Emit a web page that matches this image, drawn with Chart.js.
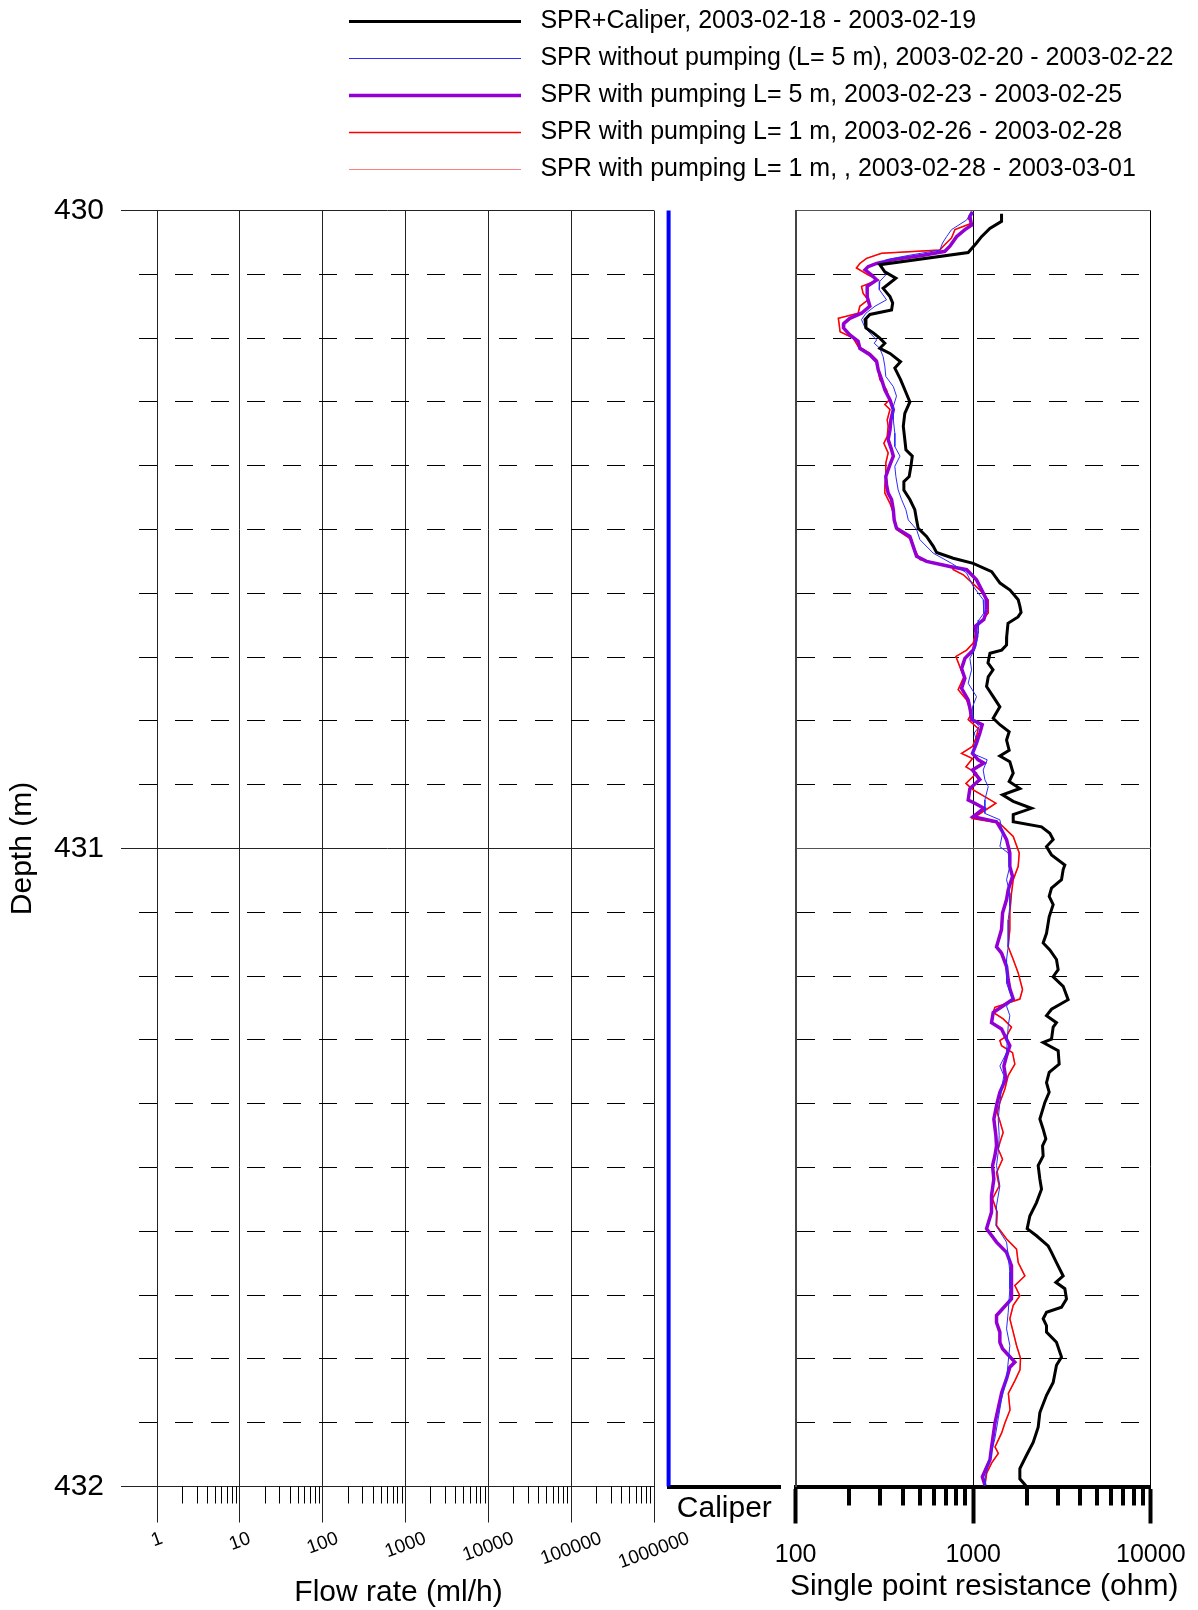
<!DOCTYPE html>
<html>

<head>
    <title>SPR log 430-432 m</title>
    <meta charset="utf-8">
    <script src="https://cdn.jsdelivr.net/npm/chart.js"></script>
    <style>
        body { margin: 0; background: #fff; }
        #wrap { position: relative; width: 1198px; height: 1610px; overflow: hidden; }
        canvas { position: absolute; }
    </style>
</head>

<body>
    <div id="wrap">
        <canvas id="flowChart" width="760" height="1610" style="left:0px;top:0px"></canvas>
        <canvas id="caliperChart" width="160" height="1610" style="left:640px;top:0px"></canvas>
        <canvas id="sprChart" width="880" height="1613" style="left:337px;top:-3px"></canvas>
    </div>

    <script>
        // depth axis (m) and axis decades
        const depthLabels = [430, 431, 432];
        const flowDecades = [1, 10, 100, 1000, 10000, 100000, 1000000];
        const sprDecades = [100, 1000, 10000];

        // caliper (mm)
        const caliperDepth = [430.0, 432.0];
        const caliperMm = [76, 76];

        // SPR+Caliper, 2003-02-18 - 2003-02-19
        const caliperSprDepth = [430.005, 430.017, 430.028, 430.041, 430.051, 430.066, 430.085, 430.096, 430.106, 430.122,
            430.135, 430.145, 430.156, 430.163, 430.171, 430.184, 430.192, 430.200, 430.208, 430.216,
            430.224, 430.237, 430.247, 430.265, 430.281, 430.300, 430.318, 430.338, 430.359, 430.375,
            430.385, 430.401, 430.417, 430.425, 430.438, 430.453, 430.469, 430.485, 430.498, 430.511,
            430.526, 430.536, 430.545, 430.553, 430.566, 430.584, 430.595, 430.610, 430.621, 430.630,
            430.637, 430.647, 430.668, 430.681, 430.689, 430.694, 430.709, 430.720, 430.731, 430.746,
            430.762, 430.778, 430.796, 430.806, 430.817, 430.830, 430.846, 430.855, 430.864, 430.882,
            430.895, 430.906, 430.916, 430.926, 430.937, 430.947, 430.958, 430.966, 430.976, 430.986,
            430.997, 431.010, 431.026, 431.033, 431.049, 431.062, 431.075, 431.088, 431.107, 431.133,
            431.148, 431.159, 431.174, 431.190, 431.201, 431.216, 431.237, 431.252, 431.262, 431.273,
            431.280, 431.299, 431.304, 431.317, 431.338, 431.351, 431.367, 431.382, 431.398, 431.424,
            431.440, 431.455, 431.466, 431.482, 431.497, 431.518, 431.534, 431.555, 431.576, 431.596,
            431.607, 431.623, 431.633, 431.649, 431.670, 431.680, 431.690, 431.706, 431.719, 431.727,
            431.737, 431.748, 431.758, 431.774, 431.797, 431.810, 431.837, 431.857, 431.884, 431.907,
            431.931, 431.951, 431.972, 431.988, 432.000];
        const caliperSprOhm = [1444, 1444, 1241, 1114, 1044, 937, 298, 318, 367, 311,
            340, 352, 347, 262, 246, 249, 274, 298, 318, 298,
            340, 390, 362, 390, 412, 440, 412, 404, 412, 418,
            454, 446, 436, 407, 407, 440, 469, 480, 490, 546,
            595, 622, 772, 1000, 1271, 1416, 1612, 1792, 1834, 1860,
            1788, 1570, 1544, 1541, 1447, 1243, 1211, 1293, 1215, 1189,
            1296, 1413, 1296, 1413, 1594, 1541, 1594, 1413, 1608, 1680,
            1594, 1831, 1463, 1680, 2130, 1680, 1680, 2425, 2701, 2820,
            2587, 2760, 3281, 3211, 3142, 2760, 2678, 2820, 2678, 2587,
            2477, 2701, 2944, 3009, 2820, 3211, 3425, 2760, 2587, 2944,
            2820, 2760, 2477, 3009, 3048, 2678, 2587, 2678, 2532, 2373,
            2477, 2564, 2457, 2477, 2322, 2373, 2425, 2272, 2084, 2013,
            2272, 2643, 2760, 2944, 3211, 2920, 3281, 3352, 3142, 2587,
            2477, 2587, 2587, 2944, 3142, 2944, 2820, 2587, 2373, 2322,
            2176, 1996, 1831, 1831, 1996];

        // SPR without pumping (L= 5 m)
        const noPumpDepth = [430.002, 430.015, 430.030, 430.041, 430.051, 430.062, 430.070, 430.077, 430.083, 430.090,
            430.101, 430.111, 430.124, 430.140, 430.150, 430.161, 430.171, 430.184, 430.192, 430.203,
            430.208, 430.216, 430.229, 430.244, 430.260, 430.276, 430.291, 430.307, 430.328, 430.349,
            430.370, 430.385, 430.401, 430.417, 430.438, 430.453, 430.469, 430.485, 430.500, 430.516,
            430.537, 430.553, 430.568, 430.589, 430.610, 430.631, 430.642, 430.663, 430.684, 430.702,
            430.720, 430.741, 430.762, 430.778, 430.798, 430.809, 430.819, 430.830, 430.851, 430.861,
            430.877, 430.892, 430.903, 430.924, 430.945, 430.955, 430.976, 430.997, 431.007, 431.028,
            431.049, 431.070, 431.091, 431.112, 431.154, 431.174, 431.211, 431.236, 431.247, 431.262,
            431.278, 431.320, 431.341, 431.356, 431.377, 431.398, 431.424, 431.450, 431.476, 431.497,
            431.529, 431.560, 431.591, 431.617, 431.638, 431.664, 431.690, 431.727, 431.753, 431.779,
            431.805, 431.831, 431.863, 431.894, 431.925, 431.957, 431.988, 431.998];
        const noPumpOhm = [991, 917, 755, 708, 672, 649, 440, 325, 298, 305,
            322, 298, 296, 325, 280, 249, 235, 246, 262, 286,
            277, 298, 311, 318, 322, 355, 370, 355, 355, 362,
            362, 387, 362, 367, 378, 395, 418, 431, 480, 501,
            595, 755, 917, 1000, 1138, 1148, 1076, 1067, 1035, 958,
            979, 937, 1044, 991, 1000, 1081, 1013, 1044, 991, 1199,
            1138, 1163, 1215, 1163, 1163, 1413, 1463, 1413, 1574, 1608,
            1541, 1608, 1608, 1574, 1574, 1541, 1541, 1665, 1541, 1608,
            1574, 1541, 1413, 1488, 1444, 1413, 1383, 1401, 1383, 1353,
            1413, 1353, 1342, 1541, 1574, 1608, 1608, 1574, 1541, 1608,
            1574, 1541, 1444, 1383, 1324, 1241, 1163, 1163];

        // SPR with pumping L= 5 m
        const pump5Depth = [430.002, 430.009, 430.023, 430.030, 430.041, 430.056, 430.064, 430.070, 430.077, 430.083,
            430.088, 430.093, 430.101, 430.109, 430.119, 430.135, 430.150, 430.161, 430.169, 430.177,
            430.184, 430.195, 430.205, 430.216, 430.226, 430.237, 430.250, 430.265, 430.281, 430.297,
            430.312, 430.328, 430.344, 430.359, 430.375, 430.385, 430.401, 430.417, 430.430, 430.443,
            430.453, 430.469, 430.485, 430.498, 430.511, 430.526, 430.542, 430.550, 430.558, 430.563,
            430.579, 430.594, 430.610, 430.626, 430.641, 430.652, 430.668, 430.689, 430.702, 430.718,
            430.733, 430.749, 430.767, 430.785, 430.798, 430.806, 430.819, 430.835, 430.851, 430.861,
            430.866, 430.877, 430.892, 430.906, 430.924, 430.929, 430.937, 430.950, 430.958, 430.971,
            430.986, 431.007, 431.028, 431.044, 431.065, 431.080, 431.101, 431.127, 431.154, 431.164,
            431.185, 431.206, 431.220, 431.236, 431.257, 431.273, 431.283, 431.299, 431.309, 431.325,
            431.341, 431.361, 431.382, 431.398, 431.424, 431.450, 431.466, 431.482, 431.497, 431.518,
            431.544, 431.570, 431.596, 431.617, 431.633, 431.654, 431.680, 431.706, 431.732, 431.743,
            431.758, 431.774, 431.784, 431.805, 431.813, 431.831, 431.853, 431.900, 431.937, 431.958,
            431.985, 431.998];
        const pump5Ohm = [991, 958, 979, 898, 806, 739, 693, 523, 355, 286,
            256, 246, 268, 286, 253, 253, 262, 235, 202, 187,
            186, 202, 225, 230, 262, 286, 292, 305, 318, 340,
            355, 344, 340, 332, 347, 355, 337, 322, 325, 332,
            347, 355, 359, 370, 440, 459, 480, 546, 739, 919,
            1044, 1114, 1189, 1191, 1148, 1024, 1046, 1001, 898, 860,
            898, 860, 937, 966, 979, 1124, 1090, 1044, 991, 1067,
            1148, 991, 1090, 958, 937, 1022, 1148, 1000, 1353, 1444,
            1541, 1608, 1608, 1665, 1574, 1541, 1463, 1444, 1353, 1444,
            1541, 1574, 1608, 1680, 1296, 1268, 1444, 1541, 1608, 1541,
            1488, 1527, 1413, 1365, 1307, 1342, 1353, 1324, 1285, 1307,
            1268, 1268, 1189, 1353, 1541, 1643, 1643, 1643, 1353, 1353,
            1413, 1413, 1463, 1716, 1608, 1541, 1446, 1327, 1271, 1243,
            1126, 1165];

        // SPR with pumping L= 1 m, 2003-02-26 - 2003-02-28
        const pump1Depth = [430.002, 430.012, 430.020, 430.030, 430.043, 430.056, 430.062, 430.067, 430.075, 430.083,
            430.090, 430.101, 430.109, 430.119, 430.130, 430.140, 430.150, 430.161, 430.169, 430.179,
            430.190, 430.200, 430.213, 430.224, 430.234, 430.250, 430.265, 430.281, 430.297, 430.304,
            430.312, 430.328, 430.338, 430.354, 430.365, 430.380, 430.396, 430.417, 430.432, 430.443,
            430.459, 430.474, 430.490, 430.500, 430.516, 430.532, 430.547, 430.558, 430.563, 430.571,
            430.595, 430.611, 430.631, 430.652, 430.678, 430.689, 430.699, 430.715, 430.731, 430.751,
            430.767, 430.788, 430.798, 430.812, 430.825, 430.840, 430.851, 430.859, 430.872, 430.882,
            430.898, 430.908, 430.929, 430.953, 430.960, 430.981, 431.007, 431.028, 431.049, 431.070,
            431.101, 431.127, 431.154, 431.174, 431.195, 431.221, 431.236, 431.249, 431.257, 431.267,
            431.280, 431.294, 431.301, 431.309, 431.320, 431.338, 431.356, 431.377, 431.398, 431.414,
            431.424, 431.445, 431.461, 431.471, 431.487, 431.508, 431.529, 431.549, 431.570, 431.591,
            431.612, 431.628, 431.649, 431.670, 431.685, 431.701, 431.716, 431.737, 431.758, 431.779,
            431.799, 431.817, 431.834, 431.854, 431.880, 431.900, 431.916, 431.938, 431.948, 431.963,
            431.979, 431.998];
        const pump1Ohm = [979, 937, 979, 789, 755, 678, 649, 305, 251, 230,
            220, 256, 292, 235, 240, 256, 230, 225, 174, 176,
            178, 211, 225, 262, 286, 292, 298, 325, 337, 318,
            340, 328, 332, 328, 314, 332, 322, 322, 318, 318,
            340, 355, 362, 370, 450, 469, 501, 755, 773, 880,
            1092, 1216, 1215, 1053, 1000, 919, 799, 841, 886, 823,
            917, 979, 937, 1067, 1044, 991, 860, 991, 910, 1044,
            910, 1000, 1342, 991, 1401, 1680, 1816, 1792, 1680, 1643,
            1608, 1608, 1574, 1680, 1792, 1896, 1831, 1324, 1296, 1475,
            1643, 1541, 1413, 1444, 1665, 1716, 1574, 1508, 1413, 1365,
            1401, 1475, 1413, 1383, 1463, 1353, 1401, 1285, 1365, 1353,
            1541, 1754, 1792, 1954, 1716, 1831, 1680, 1608, 1680, 1754,
            1847, 1834, 1718, 1577, 1612, 1510, 1446, 1327, 1385, 1271,
            1191, 1165];

        // SPR with pumping L= 1 m, 2003-02-28 - 2003-03-01 (runs under the red one in the plot)
        const pump1bDepth = pump1Depth;
        const pump1bOhm = pump1Ohm;

        Chart.defaults.font.family = "'Liberation Sans', Arial, sans-serif";
        Chart.defaults.color = "#000";

        const isWhole = v => Math.abs(v - Math.round(v)) < 1e-6;
        const series = (depth, vals) => depth.map((d, i) => ({ x: vals[i], y: d }));
        const clear = "rgba(0,0,0,0)";

        function depthTicks(scale) {
            let t = [];
            for (let i = 0; i <= 20; i++) {
                t.push({ value: depthLabels[0] + i / 10 });
            }
            scale.ticks = t;
        }

        function decadeTicks(decades) {
            return scale => {
                let t = [];
                decades.forEach((d, i) => {
                    t.push({ value: d, major: true });
                    if (i < decades.length - 1) {
                        for (let m = 2; m <= 9; m++) t.push({ value: d * m, major: false });
                    }
                });
                scale.ticks = t;
            };
        }

        // empty axis that only reserves room
        const spacer = size => ({
            type: "linear",
            afterFit: s => {
                if (s.isHorizontal()) s.height = size;
                else s.width = size;
            },
            grid: { drawOnChartArea: false, drawTicks: false },
            border: { display: false },
            ticks: { display: false }
        });

        // short minor ticks under the x axis
        const minorTicks = {
            id: "minorTicks",
            afterDraw(chart, args, o) {
                const s = chart.scales.x;
                const c = chart.ctx;
                c.save();
                c.strokeStyle = o.color;
                c.lineWidth = o.width;
                s.ticks.forEach(t => {
                    if (t.major) return;
                    const px = Math.round(s.getPixelForValue(t.value)) + (o.width % 2 ? 0.5 : 0);
                    c.beginPath();
                    c.moveTo(px, s.top);
                    c.lineTo(px, s.top + o.length);
                    c.stroke();
                });
                c.restore();
            }
        };

        // slanted decade labels of the flow axis
        const flowLabels = {
            id: "flowLabels",
            afterDraw(chart, args, o) {
                const s = chart.scales.x;
                const c = chart.ctx;
                const a = o.angle * Math.PI / 180;
                c.save();
                c.font = o.size + "px " + Chart.defaults.font.family;
                c.fillStyle = "#000";
                c.textAlign = "right";
                c.textBaseline = "middle";
                s.ticks.forEach(t => {
                    if (!t.major) return;
                    const text = String(t.value);
                    const w = c.measureText(text).width;
                    c.save();
                    c.translate(s.getPixelForValue(t.value) + w / 2 * Math.cos(a), o.y);
                    c.rotate(-a);
                    c.fillText(text, 0, 0);
                    c.restore();
                });
                c.restore();
            }
        };

        // x axis title drawn without the width squeeze chart.js applies
        const wideTitle = {
            id: "wideTitle",
            afterDraw(chart, args, o) {
                const s = chart.scales.x;
                const c = chart.ctx;
                c.save();
                c.font = o.size + "px " + Chart.defaults.font.family;
                c.fillStyle = "#000";
                c.textAlign = "center";
                c.textBaseline = "middle";
                c.fillText(o.text, (s.left + s.right) / 2 + o.dx, s.bottom - o.fromBottom);
                c.restore();
            }
        };

        const depthGrid = (solid) => ({
            color: c => c.tick && isWhole(c.tick.value) ? solid : "#000",
            lineWidth: 1,
            drawTicks: false
        });
        const depthDash = c => (c.tick && !isWhole(c.tick.value)) ? [18, 18] : [];

        // flow rate panel (empty)
        new Chart(document.getElementById("flowChart"), {
            type: "line",
            data: { datasets: [] },
            options: {
                responsive: false,
                animation: false,
                layout: { padding: { top: 210.5, right: 106, left: 0, bottom: 0 } },
                plugins: {
                    legend: { display: false },
                    tooltip: { enabled: false },
                    minorTicks: { color: "#000", width: 1, length: 17 },
                    flowLabels: { angle: 20, size: 19, y: 1538 },
                    wideTitle: { text: "Flow rate (ml/h)", size: 30, dx: 11, fromBottom: 17 }
                },
                scales: {
                    x: {
                        type: "logarithmic",
                        min: 0.3675,
                        max: 1000000,
                        afterBuildTicks: decadeTicks(flowDecades),
                        afterFit: s => { s.height = 123.5; },
                        grid: {
                            color: c => c.tick && c.tick.major ? "#222" : clear,
                            lineWidth: 1,
                            tickLength: 36,
                            tickWidth: 1,
                            tickColor: c => c.tick && c.tick.major ? "#222" : clear
                        },
                        border: { color: "#222", width: 1 },
                        ticks: { display: false, autoSkip: false }
                    },
                    y: {
                        type: "linear",
                        reverse: true,
                        min: 430,
                        max: 432,
                        afterBuildTicks: depthTicks,
                        afterFit: s => { s.width = 121; },
                        grid: depthGrid("#222"),
                        border: { display: false, dash: depthDash, dashOffset: 18 },
                        ticks: {
                            autoSkip: false,
                            padding: 17,
                            font: { size: 30 },
                            callback: v => isWhole(v) && depthLabels.includes(Math.round(v)) ? String(Math.round(v)) : ""
                        },
                        title: { display: true, text: "Depth (m)", font: { size: 30 }, padding: { top: 5, bottom: 0 } }
                    }
                }
            },
            plugins: [minorTicks, flowLabels, wideTitle]
        });

        // caliper strip
        new Chart(document.getElementById("caliperChart"), {
            type: "line",
            data: {
                datasets: [{
                    label: "Caliper",
                    data: series(caliperDepth, caliperMm),
                    borderColor: "#0000ff",
                    borderWidth: 4,
                    pointRadius: 0,
                    clip: false
                }]
            },
            options: {
                responsive: false,
                animation: false,
                layout: { padding: { left: 28.6, right: 20, top: 210.5, bottom: 0 } },
                plugins: { legend: { display: false }, tooltip: { enabled: false } },
                scales: {
                    x: {
                        type: "linear",
                        min: 76,
                        max: 86,
                        afterFit: s => { s.height = 123.5; },
                        grid: { color: clear, drawTicks: false },
                        border: { color: "#000", width: 4 },
                        ticks: { display: false },
                        title: { display: true, text: "Caliper", font: { size: 30 }, padding: { top: 0, bottom: 83 } }
                    },
                    y: { type: "linear", display: false, reverse: true, min: 430, max: 432 }
                }
            }
        });

        // single point resistance panel
        const lineStyle = { pointRadius: 0, tension: 0, fill: false };
        new Chart(document.getElementById("sprChart"), {
            type: "line",
            data: {
                datasets: [
                    { label: "SPR+Caliper, 2003-02-18 - 2003-02-19", data: series(caliperSprDepth, caliperSprOhm), borderColor: "#000000", borderWidth: 3, ...lineStyle },
                    { label: "SPR without pumping (L= 5 m), 2003-02-20 - 2003-02-22", data: series(noPumpDepth, noPumpOhm), borderColor: "#2b2bff", borderWidth: 1, ...lineStyle },
                    { label: "SPR with pumping L= 5 m, 2003-02-23 - 2003-02-25", data: series(pump5Depth, pump5Ohm), borderColor: "#9400d3", borderWidth: 3.5, ...lineStyle },
                    { label: "SPR with pumping L= 1 m, 2003-02-26 - 2003-02-28", data: series(pump1Depth, pump1Ohm), borderColor: "#ff0000", borderWidth: 1.5, ...lineStyle },
                    { label: "SPR with pumping L= 1 m, , 2003-02-28 - 2003-03-01", data: series(pump1bDepth, pump1bOhm), borderColor: "#ff8080", borderWidth: 1.2, ...lineStyle }
                ]
            },
            options: {
                responsive: false,
                animation: false,
                layout: { padding: 0 },
                plugins: {
                    legend: {
                        position: "top",
                        align: "start",
                        labels: {
                            usePointStyle: true,
                            pointStyle: "line",
                            pointStyleWidth: 172,
                            padding: 12,
                            font: { size: 25 },
                            color: "#000",
                            generateLabels: chart => Chart.defaults.plugins.legend.labels.generateLabels(chart)
                                .map(l => Object.assign(l, { text: " " + l.text }))
                        }
                    },
                    tooltip: { enabled: false },
                    minorTicks: { color: "#000", width: 4, length: 19 },
                    wideTitle: { text: "Single point resistance (ohm)", size: 30, dx: 11, fromBottom: 23 }
                },
                scales: {
                    x: {
                        type: "logarithmic",
                        min: 100,
                        max: 10000,
                        afterBuildTicks: decadeTicks(sprDecades),
                        afterFit: s => { s.height = 123.5; },
                        grid: {
                            color: c => c.tick && c.tick.major ? "#000" : clear,
                            lineWidth: 1,
                            tickLength: 37,
                            tickWidth: 4,
                            tickColor: c => c.tick && c.tick.major ? "#000" : clear
                        },
                        border: { color: "#000", width: 4 },
                        ticks: {
                            autoSkip: false,
                            maxRotation: 0,
                            padding: 17,
                            font: { size: 25 },
                            callback: (v, i, ts) => ts[i].major ? String(v) : ""
                        }
                    },
                    y: {
                        type: "linear",
                        reverse: true,
                        min: 430,
                        max: 432,
                        afterBuildTicks: depthTicks,
                        afterFit: s => { s.width = 458.6; },
                        grid: depthGrid("#555"),
                        border: { color: "#444", width: 2, dash: depthDash, dashOffset: 0 },
                        ticks: { display: false }
                    },
                    xTop: { position: "top", ...spacer(18.5) },
                    yRight: { position: "right", ...spacer(66.2) }
                }
            },
            plugins: [minorTicks, wideTitle]
        });
    </script>
</body>

</html>
